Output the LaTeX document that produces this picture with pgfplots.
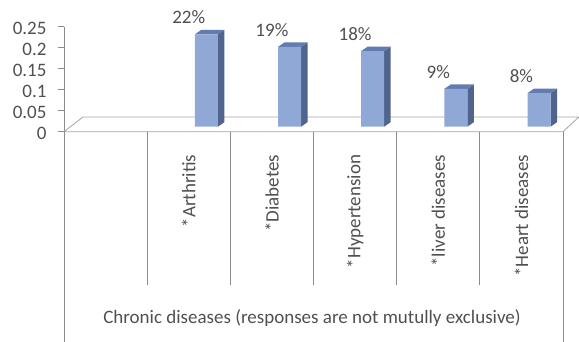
\documentclass[border=0pt]{standalone}
\usepackage{fontspec}
\setmainfont{Carlito}
\usepackage{pgfplots}
\pgfplotsset{compat=1.18}
\definecolor{txt}{RGB}{80,80,80}
\definecolor{gridc}{RGB}{140,140,140}
\definecolor{floorc}{RGB}{165,165,165}
\definecolor{barfront}{RGB}{143,168,213}
\definecolor{barside}{RGB}{80,100,142}
\definecolor{bartop}{RGB}{98,124,176}
\newcommand\cf{\fontsize{19}{22}\selectfont}
\begin{document}
\begin{tikzpicture}
\useasboundingbox (-64pt,-209.3pt) rectangle (515pt,131.7pt);
\begin{axis}[
  scale only axis, width=499pt, height=105pt,
  xmin=0, xmax=6, ymin=0, ymax=0.25,
  clip=false,
  axis lines*=left,
  axis line style={gridc, line width=0.8pt},
  x axis line style={draw=none},
  ytick={0,0.05,0.1,0.15,0.2,0.25},
  yticklabels={0,0.05,0.1,0.15,0.2,0.25},
  tick align=outside, major tick length=6pt,
  y tick style={gridc, line width=0.8pt},
  x tick style={draw=none},
  xtick={1.5,2.5,3.5,4.5,5.5},
  xticklabels={*Arthritis,*Diabetes,*Hypertension,*liver diseases,*Heart diseases},
  xticklabel style={rotate=90, anchor=east, inner sep=0pt, font=\cf, xshift=-17pt},
  yticklabel style={font=\cf, xshift=-8pt, yshift=-2pt},
  tick label style={text=txt},
  /pgf/number format/assume math mode=true,
  xlabel={Chronic diseases (responses are not mutully exclusive)},
  xlabel style={at={(axis description cs:0.497,0)}, anchor=base, yshift=-191.3pt, font=\cf, text=txt},
]
% floor
\addplot[draw=floorc, fill=white, line width=0.8pt] coordinates {(0,0) (0.228,0.035) (6.19,0.035) (6,0) (0,0)};
% table lines
\addplot[gridc, line width=0.8pt] coordinates {(0,0) (0,-0.5)};
\addplot[gridc, line width=0.8pt] coordinates {(6,0) (6,-0.5)};
\addplot[gridc, line width=0.8pt] coordinates {(1,0) (1,-0.365)};
\addplot[gridc, line width=0.8pt] coordinates {(2,0) (2,-0.365)};
\addplot[gridc, line width=0.8pt] coordinates {(3,0) (3,-0.365)};
\addplot[gridc, line width=0.8pt] coordinates {(4,0) (4,-0.365)};
\addplot[gridc, line width=0.8pt] coordinates {(5,0) (5,-0.365)};
% bar side faces
\addplot[fill=barside, draw=none, yshift=5pt] coordinates {(1.8499,0) (1.9281,0.0107) (1.9281,0.2307) (1.8499,0.22)};
\addplot[fill=barside, draw=none, yshift=5pt] coordinates {(2.8499,0) (2.9281,0.0107) (2.9281,0.2007) (2.8499,0.19)};
\addplot[fill=barside, draw=none, yshift=5pt] coordinates {(3.8499,0) (3.9281,0.0107) (3.9281,0.1907) (3.8499,0.18)};
\addplot[fill=barside, draw=none, yshift=5pt] coordinates {(4.8499,0) (4.9281,0.0107) (4.9281,0.1007) (4.8499,0.09)};
\addplot[fill=barside, draw=none, yshift=5pt] coordinates {(5.8499,0) (5.9281,0.0107) (5.9281,0.0907) (5.8499,0.08)};
% bar top faces
\addplot[fill=bartop, draw=none, yshift=5pt] coordinates {(1.5733,0.22) (1.8499,0.22) (1.9281,0.2307) (1.6515,0.2307)};
\addplot[fill=bartop, draw=none, yshift=5pt] coordinates {(2.5733,0.19) (2.8499,0.19) (2.9281,0.2007) (2.6515,0.2007)};
\addplot[fill=bartop, draw=none, yshift=5pt] coordinates {(3.5733,0.18) (3.8499,0.18) (3.9281,0.1907) (3.6515,0.1907)};
\addplot[fill=bartop, draw=none, yshift=5pt] coordinates {(4.5733,0.09) (4.8499,0.09) (4.9281,0.1007) (4.6515,0.1007)};
\addplot[fill=bartop, draw=none, yshift=5pt] coordinates {(5.5733,0.08) (5.8499,0.08) (5.9281,0.0907) (5.6515,0.0907)};
% bar fronts
\addplot[ybar, bar width=23pt, bar shift=17.6pt, yshift=5pt, fill=barfront, draw=none,
  point meta=explicit symbolic, nodes near coords,
  every node near coord/.append style={font=\cf, text=txt, anchor=center, yshift=17pt}]
  coordinates {(1.5,0.22) [22\%] (2.5,0.19) [19\%] (3.5,0.18) [18\%] (4.5,0.09) [9\%] (5.5,0.08) [8\%]};
\end{axis}
\end{tikzpicture}
\end{document}
